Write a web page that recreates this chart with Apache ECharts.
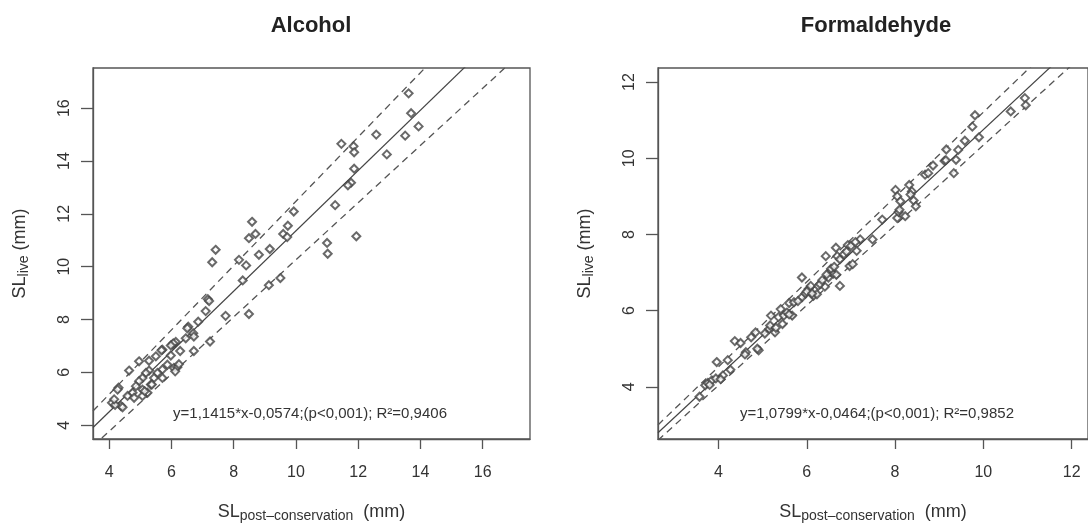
<!DOCTYPE html>
<html>
<head>
<meta charset="utf-8">
<script src="https://cdn.jsdelivr.net/npm/echarts@6/dist/echarts.min.js"></script>
<style>
  html, body { margin: 0; padding: 0; background: #fff; }
  #main { width: 1088px; height: 528px; }
</style>
</head>
<body>
<div id="main"></div>
<script>
// --- data ---
var titles = ['Alcohol', 'Formaldehyde'];
var equations = [
  'y=1,1415*x-0,0574;(p<0,001); R\u00b2=0,9406',
  'y=1,0799*x-0,0464;(p<0,001); R\u00b2=0,9852'
];

// Alcohol: [SL post-conservation, SL live]
var alcoholPoints = [
  [13.62,16.56],[13.70,15.81],[13.94,15.31],[13.51,14.96],[12.58,15.00],[12.92,14.25],
  [11.46,14.65],[11.85,14.56],[11.87,14.33],[11.87,13.71],[11.77,13.18],[11.67,13.08],
  [11.26,12.33],[11.94,11.15],[11.00,10.90],[11.02,10.49],[9.93,12.09],[9.74,11.55],
  [9.59,11.24],[9.72,11.12],[8.59,11.70],[8.49,11.08],[8.70,11.24],[8.81,10.45],
  [9.16,10.67],[7.42,10.64],[7.31,10.17],[8.17,10.26],[8.40,10.05],[8.29,9.48],
  [9.13,9.30],[9.50,9.57],[7.74,8.14],[8.49,8.21],[7.17,8.77],[7.21,8.70],
  [7.10,8.32],[7.24,7.17],[6.86,7.92],[6.54,7.73],[6.70,7.48],[6.46,7.29],
  [6.72,6.81],[6.28,6.81],[6.51,7.67],[6.72,7.36],[6.03,7.05],[6.14,7.15],
  [5.71,6.86],[6.08,6.17],[6.19,6.20],[6.12,6.04],[5.87,6.29],[5.71,6.11],
  [5.55,5.98],[5.44,5.79],[5.34,5.54],[5.23,5.23],[5.07,5.35],[5.07,5.11],
  [5.28,6.07],[5.18,5.98],[5.07,5.79],[4.96,5.67],[4.86,5.48],[4.75,5.23],
  [4.59,5.11],[4.09,4.85],[4.38,4.73],[4.19,4.77],[4.16,4.98],[4.30,5.42],
  [4.64,6.07],[4.96,6.42],[5.28,6.44],[5.71,5.79],[5.50,6.61],[5.98,6.64],
  [6.06,7.10],[5.68,6.84],[5.37,5.54],[5.14,5.29],[4.80,5.04],[4.27,5.35],
  [4.43,4.68],[6.24,6.31],[5.98,7.02]
];

// Formaldehyde: [SL post-conservation, SL live]
var formolPoints = [
  [3.57,3.74],[3.70,4.04],[3.76,4.10],[3.85,4.17],[3.96,4.65],[3.94,4.22],
  [4.10,4.30],[4.21,4.70],[4.27,4.45],[4.37,5.20],[4.50,5.15],[4.62,4.91],
  [4.74,5.30],[4.84,5.43],[4.91,4.96],[4.88,5.00],[5.15,5.52],[5.17,5.61],
  [5.19,5.87],[5.28,5.43],[5.41,6.04],[5.36,5.83],[5.45,5.65],[5.48,5.87],
  [5.60,6.20],[5.67,5.87],[5.71,6.22],[5.89,6.87],[5.89,6.35],[5.97,6.45],
  [6.04,6.57],[6.09,6.65],[6.15,6.39],[6.23,6.43],[6.26,6.65],[6.43,7.43],
  [6.41,6.63],[6.49,6.87],[6.54,7.04],[6.60,6.97],[6.66,7.65],[6.69,7.43],
  [6.67,6.94],[6.75,6.65],[6.75,7.35],[6.84,7.48],[6.93,7.72],[6.97,7.17],
  [7.04,7.22],[7.13,7.57],[7.21,7.87],[7.49,7.87],[7.71,8.39],[8.01,9.17],
  [8.05,9.00],[8.05,8.43],[8.08,8.59],[8.12,8.87],[8.23,8.48],[8.32,9.30],
  [8.38,9.13],[8.42,8.89],[8.47,8.74],[8.68,9.57],[8.75,9.61],[8.86,9.81],
  [9.12,9.93],[9.16,10.23],[9.33,9.61],[9.38,9.96],[9.43,10.22],[9.58,10.46],
  [9.75,10.83],[9.81,11.13],[9.90,10.55],[10.62,11.23],[10.94,11.58],[10.96,11.39],
  [5.05,5.40],[5.30,5.55],[5.55,5.95],[5.80,6.25],[6.00,6.50],[6.12,6.45],
  [6.30,6.70],[6.35,6.80],[6.55,7.10],[6.62,7.15],[6.90,7.55],[7.00,7.70],
  [7.10,7.80],[6.45,6.95],[4.60,4.85],[4.05,4.20],[3.80,4.05],[5.60,5.90],
  [8.10,8.65],[9.15,9.95],[8.35,9.05]
];

// regression lines and dashed bands: [slope, intercept]
var alcoholFit = [1.1415, -0.0574];
var alcoholUpper = [1.217, 0.305];
var alcoholLower = [1.0817, -0.555];
var formolFit = [1.0799, -0.0464];
var formolUpper = [1.114, 0.070];
var formolLower = [1.051, -0.166];

// axis ranges and tick labels
var alcoholRange = [3.48, 17.52];
var formolRange = [2.63, 12.37];
var alcoholTicks = [4, 6, 8, 10, 12, 14, 16];
var formolTicks = [4, 6, 8, 10, 12];

var chart = echarts.init(document.getElementById('main'));

var FONT = '"Liberation Sans", Arial, sans-serif';
var INK = '#555';

function lineData(coef, range) {
  return range.map(function (x) { return [x, coef[0] * x + coef[1]]; });
}

var xName = '{m|SL}{s|post\u2013conservation}{m|  (mm)}';
var yName = '{m|SL}{s|live}{m| (mm)}';
var nameRich = {
  m: { fontSize: 18, lineHeight: 22, color: '#333', fontFamily: FONT, verticalAlign: 'middle' },
  s: { fontSize: 14, lineHeight: 12, color: '#333', fontFamily: FONT, verticalAlign: 'bottom' }
};

function makeAxis(range, ticks, name, isY) {
  return {
    type: 'value',
    min: range[0],
    max: range[1],
    name: name,
    nameLocation: 'middle',
    nameGap: 62,
    nameTextStyle: { rich: nameRich },
    axisLine: { show: true, onZero: false, lineStyle: { color: INK, width: 1.3 } },
    axisTick: { show: true, customValues: ticks, length: isY ? 12 : 10, lineStyle: { color: INK, width: 1.3 } },
    axisLabel: {
      customValues: ticks,
      fontSize: 16,
      color: '#333',
      fontFamily: FONT,
      margin: isY ? 20 : 26,
      rotate: isY ? 90 : 0
    },
    splitLine: { show: false }
  };
}

var grids = [
  { left: 93, top: 68, width: 437, height: 374 },
  { left: 658, top: 68, width: 437, height: 374 }
];

var option = {
  animation: false,
  backgroundColor: '#fff',
  grid: grids.map(function (g) {
    return Object.assign({ show: true, borderColor: INK, borderWidth: 1.3, backgroundColor: 'transparent' }, g);
  }),
  xAxis: [
    Object.assign(makeAxis(alcoholRange, alcoholTicks, xName, false), { gridIndex: 0 }),
    Object.assign(makeAxis(formolRange, formolTicks, xName, false), { gridIndex: 1 })
  ],
  yAxis: [
    Object.assign(makeAxis(alcoholRange, alcoholTicks, yName, true), { gridIndex: 0 }),
    Object.assign(makeAxis(formolRange, formolTicks, yName, true), { gridIndex: 1 })
  ],
  graphic: [
    { type: 'text', x: 311, y: 26, style: { text: titles[0], font: 'bold 22px ' + FONT, fill: '#222', align: 'center', verticalAlign: 'middle' } },
    { type: 'text', x: 876, y: 26, style: { text: titles[1], font: 'bold 22px ' + FONT, fill: '#222', align: 'center', verticalAlign: 'middle' } },
    { type: 'text', x: 310, y: 414, style: { text: equations[0], font: '15px ' + FONT, fill: '#333', align: 'center', verticalAlign: 'middle' } },
    { type: 'text', x: 877, y: 414, style: { text: equations[1], font: '15px ' + FONT, fill: '#333', align: 'center', verticalAlign: 'middle' } }
  ],
  series: []
};

var panels = [
  { pts: alcoholPoints, fit: alcoholFit, up: alcoholUpper, lo: alcoholLower, range: alcoholRange },
  { pts: formolPoints, fit: formolFit, up: formolUpper, lo: formolLower, range: formolRange }
];

panels.forEach(function (p, i) {
  option.series.push({
    type: 'scatter', xAxisIndex: i, yAxisIndex: i, data: p.pts,
    symbol: 'emptyDiamond', symbolSize: 8, z: 3,
    itemStyle: { color: '#444', borderWidth: 0.9 }
  });
  option.series.push({
    type: 'line', xAxisIndex: i, yAxisIndex: i, data: lineData(p.fit, p.range),
    symbol: 'none', clip: true, z: 2, lineStyle: { color: '#444', width: 1.2 }
  });
  [p.up, p.lo].forEach(function (c) {
    option.series.push({
      type: 'line', xAxisIndex: i, yAxisIndex: i, data: lineData(c, p.range),
      symbol: 'none', clip: true, z: 2, lineStyle: { color: '#555', width: 1.3, type: [7, 5] }
    });
  });
});

chart.setOption(option);
</script>
</body>
</html>
